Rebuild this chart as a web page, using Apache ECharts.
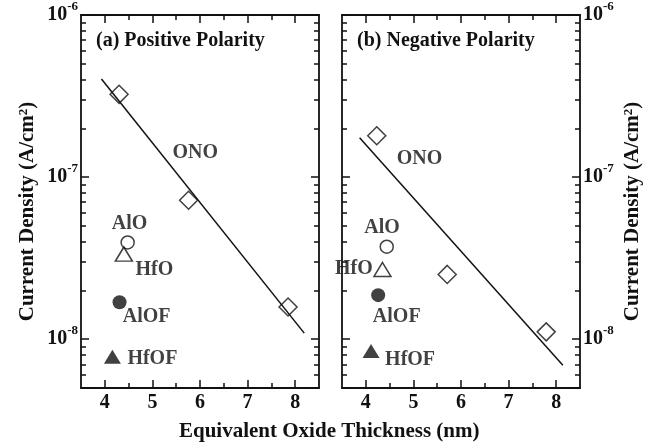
<!DOCTYPE html>
<html><head><meta charset="utf-8">
<script src="https://cdn.jsdelivr.net/npm/echarts@6/dist/echarts.min.js"></script>
<style>html,body{margin:0;padding:0;background:#fff}#c{width:647px;height:444px}</style>
</head><body><div id="c"></div>
<script>
// ---- data ----
const xTickValues = [4, 5, 6, 7, 8];
const xMinorValues = [4.5, 5.5, 6.5, 7.5];

// Panel (a) Positive Polarity
const onoA  = [[4.30, 3.24e-7], [5.76, 7.2e-8], [7.85, 1.58e-8]];
const fitA  = [[3.93, 4.03e-7], [8.19, 1.09e-8]];
const aloA  = [[4.48, 3.95e-8]];
const hfoA  = [[4.40, 3.35e-8]];
const alofA = [[4.31, 1.69e-8]];
const hfofA = [[4.16, 7.8e-9]];
const labelsA = [['ONO', 5.90, 1.41e-7], ['AlO', 4.52, 5.18e-8], ['HfO', 5.04, 2.67e-8], ['AlOF', 4.88, 1.37e-8], ['HfOF', 5.00, 7.6e-9]];

// Panel (b) Negative Polarity
const onoB  = [[4.23, 1.80e-7], [5.71, 2.51e-8], [7.79, 1.11e-8]];
const fitB  = [[3.87, 1.75e-7], [8.14, 6.9e-9]];
const aloB  = [[4.44, 3.72e-8]];
const hfoB  = [[4.35, 2.69e-8]];
const alofB = [[4.26, 1.87e-8]];
const hfofB = [[4.11, 8.47e-9]];
const labelsB = [['ONO', 5.13, 1.30e-7], ['AlO', 4.34, 4.86e-8], ['HfO', 3.75, 2.73e-8], ['AlOF', 4.65, 1.37e-8], ['HfOF', 4.93, 7.41e-9]];

const panelTitles = ['(a) Positive Polarity', '(b) Negative Polarity'];
const xTitle = 'Equivalent Oxide Thickness (nm)';
const yTitle = 'Current Density (A/cm{s|2})';

// ---- styling ----
const FONT = 'Liberation Serif';
const INK = '#111';

function xAxisDef(gi, pos, major, labels) {
  return {
    type: 'value', gridIndex: gi, position: pos, min: 3.5, max: 8.5,
    axisLine: {show: major, onZero: false, lineStyle: {color: INK, width: 1.8}},
    axisTick: {show: true, inside: true, length: major ? 8 : 5,
      customValues: major ? xTickValues : xMinorValues, lineStyle: {color: INK, width: 1.5}},
    axisLabel: {show: labels, customValues: xTickValues, margin: 5, color: INK,
      fontFamily: FONT, fontWeight: 'bold', fontSize: 20},
    splitLine: {show: false}
  };
}
function yFmt(v) {
  const e = Math.log10(v), r = Math.round(e);
  if (Math.abs(e - r) > 1e-6) return '';
  return '{b|10}{s|' + r + '}';
}
function yAxisDef(gi, pos, labels) {
  const a = {
    type: 'log', logBase: 10, gridIndex: gi, position: pos, min: 5e-9, max: 1e-6,
    axisLine: {show: true, onZero: false, lineStyle: {color: INK, width: 1.8}},
    axisTick: {show: true, inside: true, length: 8, lineStyle: {color: INK, width: 1.5}},
    minorTick: {show: true, splitNumber: 9, length: 5, lineStyle: {color: INK, width: 1.5}},
    axisLabel: {show: labels, margin: 3, formatter: yFmt, showMinLabel: false,
      rich: {
        b: {fontFamily: FONT, fontWeight: 'bold', fontSize: 20, color: INK, lineHeight: 30},
        s: {fontFamily: FONT, fontWeight: 'bold', fontSize: 13, color: INK, lineHeight: 13, verticalAlign: 'top'}
      }},
    splitLine: {show: false}, minorSplitLine: {show: false}
  };
  if (labels) {
    a.name = yTitle;
    a.nameLocation = 'middle';
    a.nameRotate = 90;
    a.nameGap = 42;
    a.nameTextStyle = {color: INK, fontFamily: FONT, fontWeight: 'bold', fontSize: 21,
      lineHeight: 22, padding: [0, 20, 0, 0],
      rich: {s: {color: INK, fontFamily: FONT, fontWeight: 'bold', fontSize: 13, lineHeight: 13, verticalAlign: 'top'}}};
  }
  return a;
}
// tick-only axes for an overlay grid (no labels, no series)
function xTickAxis(gi, pos, major) {
  return {
    type: 'value', gridIndex: gi, position: pos, min: 3.5, max: 8.5,
    axisLine: {show: false, onZero: false},
    axisTick: {show: true, inside: true, length: major ? 8 : 5,
      customValues: major ? xTickValues : xMinorValues, lineStyle: {color: INK, width: 1.5}},
    axisLabel: {show: false}, splitLine: {show: false}
  };
}
function yTickAxis(gi, pos) {
  return {
    type: 'log', logBase: 10, gridIndex: gi, position: pos, min: 5e-9, max: 1e-6,
    axisLine: {show: false, onZero: false},
    axisTick: {show: true, inside: true, length: 8, lineStyle: {color: INK, width: 1.5}},
    minorTick: {show: true, splitNumber: 9, length: 5, lineStyle: {color: INK, width: 1.5}},
    axisLabel: {show: false}, splitLine: {show: false}, minorSplitLine: {show: false}
  };
}
function pts(name, data, xi, yi, symbol, size, filled) {
  return {
    type: 'scatter', name, xAxisIndex: xi, yAxisIndex: yi, data, symbol, symbolSize: size,
    itemStyle: filled ? {color: INK} : {color: 'rgba(255,255,255,0)', borderColor: INK, borderWidth: 1.5},
    z: 5, silent: true
  };
}
function fit(name, data, xi, yi) {
  return {type: 'line', name, xAxisIndex: xi, yAxisIndex: yi, data, showSymbol: false,
    lineStyle: {color: INK, width: 1.5}, z: 3, silent: true};
}
function labels(arr, xi, yi) {
  return {
    type: 'scatter', xAxisIndex: xi, yAxisIndex: yi, symbolSize: 1,
    itemStyle: {color: 'rgba(255,255,255,0)'}, silent: true, z: 6,
    data: arr.map(d => ({name: d[0], value: [d[1], d[2]]})),
    label: {show: true, position: 'inside', formatter: '{b}', color: INK,
      fontFamily: FONT, fontWeight: 'bold', fontSize: 20}
  };
}
const titleStyle = (size) => ({color: INK, fontFamily: FONT, fontWeight: 'bold', fontSize: size, lineHeight: size});

const option = {
  backgroundColor: '#fff',
  animation: false,
  title: [
    {text: panelTitles[0], left: 96, top: 31, padding: 0, textStyle: titleStyle(20)},
    {text: panelTitles[1], left: 357, top: 31, padding: 0, textStyle: titleStyle(20)},
    {text: xTitle, left: 179, top: 421, padding: 0, textStyle: titleStyle(21)}
  ],
  grid: [
    {left: 81, top: 15, width: 238, height: 373},
    {left: 342, top: 15, width: 238, height: 373},
    {left: 81, top: 15, width: 238, height: 373},
    {left: 342, top: 15, width: 238, height: 373}
  ],
  xAxis: [
    xAxisDef(0, 'bottom', true, true), xAxisDef(0, 'bottom', false, false),
    xAxisDef(0, 'top', true, false), xAxisDef(0, 'top', false, false),
    xAxisDef(1, 'bottom', true, true), xAxisDef(1, 'bottom', false, false),
    xAxisDef(1, 'top', true, false), xAxisDef(1, 'top', false, false),
    xTickAxis(2, 'bottom', true), xTickAxis(2, 'bottom', false),
    xTickAxis(2, 'top', true), xTickAxis(2, 'top', false),
    xTickAxis(3, 'bottom', true), xTickAxis(3, 'bottom', false),
    xTickAxis(3, 'top', true), xTickAxis(3, 'top', false)
  ],
  yAxis: [
    yAxisDef(0, 'left', true), yAxisDef(0, 'right', false),
    yAxisDef(1, 'left', false), yAxisDef(1, 'right', true),
    yTickAxis(2, 'left'), yTickAxis(2, 'right'),
    yTickAxis(3, 'left'), yTickAxis(3, 'right')
  ],
  series: [
    fit('fitA', fitA, 0, 0),
    pts('ONO', onoA, 0, 0, 'diamond', 18, false),
    pts('AlO', aloA, 0, 0, 'circle', 13, false),
    pts('HfO', hfoA, 0, 0, 'triangle', [17, 14], false),
    pts('AlOF', alofA, 0, 0, 'circle', 14, true),
    pts('HfOF', hfofA, 0, 0, 'triangle', [17, 14], true),
    labels(labelsA, 0, 0),
    fit('fitB', fitB, 4, 3),
    pts('ONO', onoB, 4, 3, 'diamond', 18, false),
    pts('AlO', aloB, 4, 3, 'circle', 13, false),
    pts('HfO', hfoB, 4, 3, 'triangle', [17, 14], false),
    pts('AlOF', alofB, 4, 3, 'circle', 14, true),
    pts('HfOF', hfofB, 4, 3, 'triangle', [17, 14], true),
    labels(labelsB, 4, 3)
  ]
};
const chart = echarts.init(document.getElementById('c'), null, {renderer: 'canvas'});
chart.setOption(option);
</script>
</body></html>
